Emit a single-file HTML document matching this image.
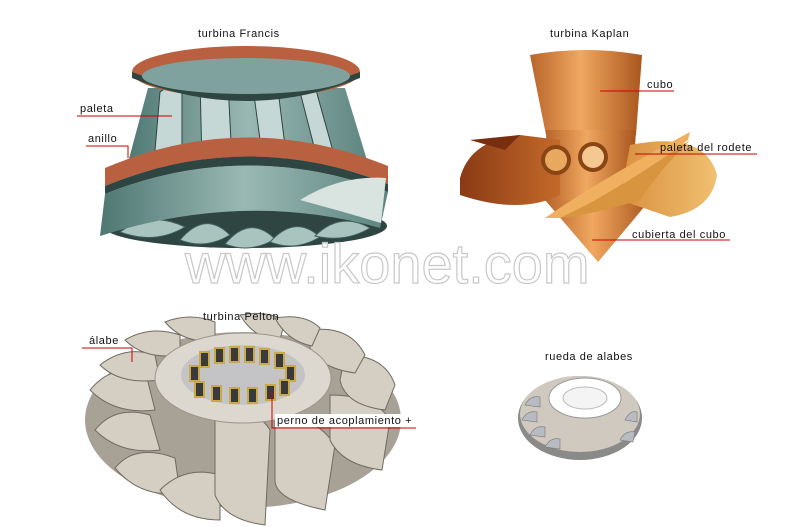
<!DOCTYPE html>
<html><head><meta charset="utf-8"><style>
html,body{margin:0;padding:0;background:#fff;}
svg{display:block;}
text{font-family:"Liberation Sans",sans-serif;font-size:11px;fill:#111;letter-spacing:0.6px;}
</style></head><body>
<svg width="800" height="527" viewBox="0 0 800 527" xmlns="http://www.w3.org/2000/svg">
<defs>
<linearGradient id="teal" x1="0" x2="1"><stop offset="0" stop-color="#4f7873"/><stop offset="0.5" stop-color="#9ab8b3"/><stop offset="1" stop-color="#5d8580"/></linearGradient>
<linearGradient id="org" x1="0" x2="1"><stop offset="0" stop-color="#b8642a"/><stop offset="0.45" stop-color="#f0a860"/><stop offset="1" stop-color="#a9561e"/></linearGradient>
<linearGradient id="lb" x1="0" x2="1"><stop offset="0" stop-color="#8a3a15"/><stop offset="1" stop-color="#c46a2a"/></linearGradient>
<linearGradient id="rb" x1="0" x2="1"><stop offset="0" stop-color="#d89040"/><stop offset="1" stop-color="#f0c070"/></linearGradient>
</defs>

<!-- Francis -->
<ellipse cx="245" cy="226" rx="142" ry="22" fill="#2e4542"/>
<g fill="#a9c3bf" stroke="#3f5f5b" stroke-width="1">
<path d="M120 232 q30 -22 65 -5 q-30 18 -65 5z"/><path d="M180 240 q25 -30 50 -5 q-25 15 -50 5z"/><path d="M225 244 q25 -30 50 -5 q-25 15 -50 5z"/><path d="M270 242 q25 -28 50 -5 q-25 15 -50 5z"/><path d="M315 236 q25 -25 55 -8 q-25 15 -55 8z"/>
</g>
<path d="M148 88 L126 170 L370 170 L345 88 Z" fill="url(#teal)"/>
<g fill="#c5d8d5" stroke="#2e4542" stroke-width="1">
<path d="M160 92 q12 -10 22 0 l0 70 h-28z"/><path d="M200 82 q15 -10 28 0 l4 80 h-30z"/><path d="M252 80 q15 -8 25 2 l10 80 h-24z"/><path d="M298 84 q12 -4 18 6 l20 72 h-18z"/>
</g>
<ellipse cx="246" cy="72" rx="114" ry="26" fill="#b8603f"/>
<path d="M132 72 Q246 116 360 72 L360 78 Q246 124 132 78Z" fill="#2e4542"/>
<ellipse cx="246" cy="76" rx="104" ry="18" fill="#7fa29e"/>
<path d="M105 168 Q245 108 388 166 L388 184 Q245 128 105 186 Z" fill="#b8603f"/>
<path d="M105 186 Q245 128 388 184 L388 192 Q245 138 105 194 Z" fill="#2e4542"/>
<path d="M105 194 Q245 138 388 192 L380 228 Q245 190 100 236 Z" fill="url(#teal)"/>
<path d="M300 200 q40 -25 86 -22 l-5 45 q-40 -12 -81 -23z" fill="#d9e3e0"/>

<!-- Kaplan -->
<path d="M530 55 Q586 45 642 55 L636 135 L546 135 Z" fill="url(#org)"/>
<path d="M546 130 L636 130 L632 200 L548 200Z" fill="url(#org)"/>
<path d="M460 178 Q470 140 520 135 L560 140 L560 195 Q520 215 460 195 Z" fill="url(#lb)"/>
<path d="M470 140 L520 135 L505 150Z" fill="#7a2e10"/>
<circle cx="556" cy="160" r="15" fill="#8a4515"/><circle cx="556" cy="160" r="11" fill="#e8a860"/>
<circle cx="593" cy="157" r="15" fill="#8a4515"/><circle cx="593" cy="157" r="11" fill="#f4c890"/>
<path d="M545 200 L650 200 L598 262 Z" fill="url(#org)"/>
<path d="M630 145 Q705 130 717 175 Q712 210 670 217 L620 200Z" fill="url(#rb)"/>
<path d="M545 218 Q600 180 690 132 L688 140 Q620 190 560 218Z" fill="#f0b060"/>
<path d="M560 218 Q620 190 690 140 Q660 170 640 200 Q590 215 560 218Z" fill="#d8943e"/>

<!-- watermark -->
<text x="185" y="283" style="font-size:56px;fill:#fff;fill-opacity:0.9;letter-spacing:0;stroke:#c8c8c8;stroke-width:1.2">www.ikonet.com</text>

<!-- Pelton -->
<ellipse cx="243" cy="420" rx="158" ry="88" fill="#a8a195"/>
<g fill="#d4cec3" stroke="#6f6a62" stroke-width="1">
<path d="M90 390 q20 -25 55 -20 l10 40 q-40 5 -65 -20z"/><path d="M95 430 q20 -25 55 -15 l10 35 q-40 5 -65 -20z"/><path d="M115 468 q20 -25 60 -10 l5 35 q-40 5 -65 -25z"/>
<path d="M160 490 q25 -25 60 -15 l0 45 q-40 0 -60 -30z"/><path d="M215 410 q40 -5 55 20 l-5 95 q-40 -5 -50 -30z"/>
<path d="M275 415 q40 0 60 30 l-10 65 q-50 -10 -50 -30z"/><path d="M330 395 q45 0 60 25 l-8 50 q-40 -5 -52 -30z"/>
<path d="M345 355 q40 0 50 30 l-10 25 q-40 -5 -45 -30z"/><path d="M310 330 q40 -5 55 25 l-10 18 q-35 -5 -45 -25z"/>
<path d="M100 365 q25 -20 55 -10 l5 25 q-40 5 -60 -15z"/><path d="M125 340 q25 -15 55 -5 l0 20 q-35 5 -55 -15z"/>
<path d="M165 322 q25 -10 50 0 l0 18 q-30 5 -50 -18z"/><path d="M240 315 q25 -5 45 5 l-5 20 q-25 0 -40 -25z"/><path d="M275 318 q30 -5 45 10 l-8 18 q-25 -5 -37 -28z"/>
</g>
<ellipse cx="243" cy="378" rx="88" ry="45" fill="#ddd8cf" stroke="#9a948a"/>
<ellipse cx="243" cy="375" rx="62" ry="30" fill="#c4c4c6"/>
<g fill="#3a3a3a" stroke="#c9a94a" stroke-width="2">
<rect x="200" y="352" width="9" height="15"/><rect x="215" y="348" width="9" height="15"/><rect x="230" y="347" width="9" height="15"/><rect x="245" y="347" width="9" height="15"/><rect x="260" y="349" width="9" height="15"/><rect x="275" y="353" width="9" height="15"/>
<rect x="190" y="366" width="9" height="15"/><rect x="286" y="366" width="9" height="15"/>
<rect x="195" y="382" width="9" height="15"/><rect x="212" y="386" width="9" height="15"/><rect x="230" y="388" width="9" height="15"/><rect x="248" y="388" width="9" height="15"/><rect x="266" y="385" width="9" height="15"/><rect x="280" y="380" width="9" height="15"/>
</g>

<!-- small wheel -->
<ellipse cx="580" cy="418" rx="62" ry="42" fill="#8a8a88"/>
<ellipse cx="580" cy="414" rx="60" ry="38" fill="#cfc9bf"/>
<g fill="#b8bcc2" stroke="#777" stroke-width="0.6">
<path d="M525 405 q5 -10 15 -8 l0 10z"/><path d="M522 420 q5 -10 15 -8 l0 10z"/><path d="M530 435 q5 -10 15 -8 l0 10z"/><path d="M545 447 q5 -10 15 -8 l0 10z"/><path d="M620 440 q5 -10 15 -8 l-2 10z"/><path d="M625 420 q5 -10 12 -8 l0 10z"/>
</g>
<ellipse cx="585" cy="398" rx="36" ry="20" fill="#fff" stroke="#999"/>
<ellipse cx="585" cy="398" rx="22" ry="11" fill="#f4f4f4" stroke="#bbb"/>

<!-- labels -->
<text x="198" y="37">turbina Francis</text>
<line x1="77" y1="116" x2="172" y2="116" stroke="#c00"/>
<text x="80" y="112">paleta</text>
<polyline points="86,146 128,146 128,158" fill="none" stroke="#c00"/>
<text x="88" y="142">anillo</text>
<text x="550" y="37">turbina Kaplan</text>
<line x1="600" y1="91" x2="674" y2="91" stroke="#c00"/><text x="647" y="88">cubo</text>
<line x1="635" y1="154" x2="757" y2="154" stroke="#c00"/><text x="660" y="151">paleta del rodete</text>
<line x1="592" y1="240" x2="730" y2="240" stroke="#c00"/><text x="632" y="238">cubierta del cubo</text>
<text x="203" y="320">turbina Pelton</text>
<polyline points="82,348 132,348 132,362" fill="none" stroke="#c00"/>
<text x="89" y="344">álabe</text>
<polyline points="272,392 272,428 416,428" fill="none" stroke="#c00"/>
<rect x="275" y="414" width="140" height="13" fill="#fff"/>
<text x="277" y="424">perno de acoplamiento +</text>
<text x="545" y="360">rueda de alabes</text>
</svg>
</body></html>
